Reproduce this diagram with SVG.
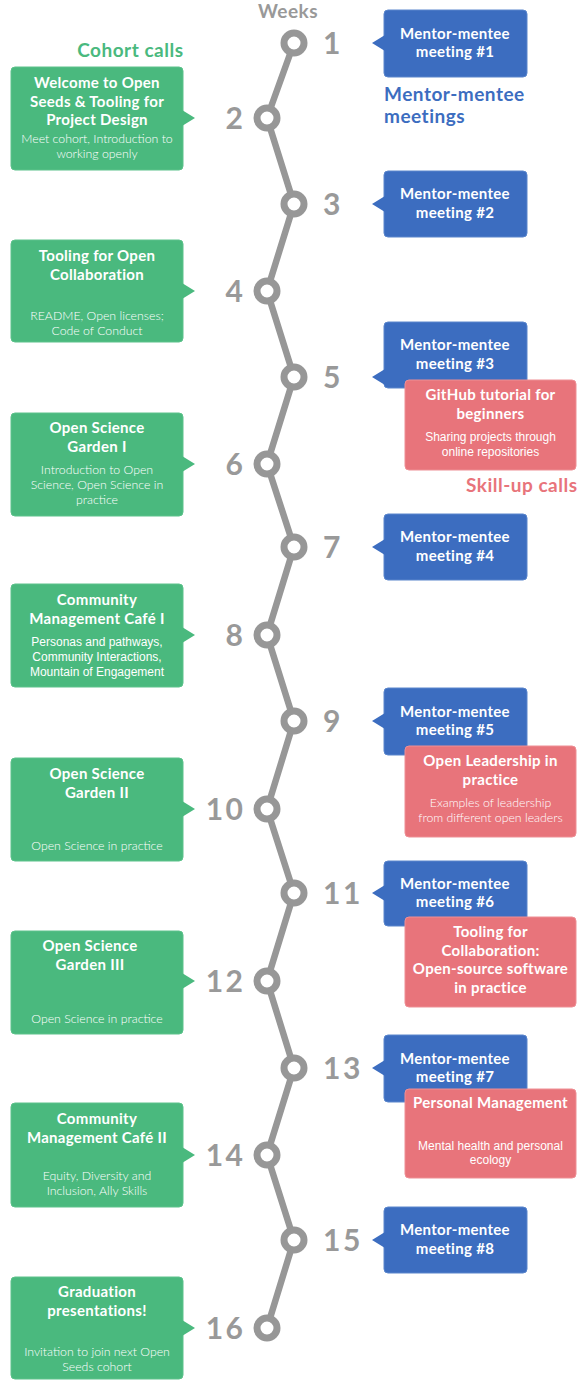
<svg xmlns="http://www.w3.org/2000/svg" width="577" height="1380" viewBox="0 0 577 1380">
<style>
.g{fill:#4ab97e;stroke:#5cc28b;stroke-width:1}
.b{fill:#3c6dc0;stroke:#5a86cc;stroke-width:1}
.r{fill:#e8747b;stroke:#ee8f95;stroke-width:1}
.ga{fill:#4ab97e}
.ba{fill:#3c6dc0}
.t{font-family:Lato,'Liberation Sans',sans-serif;font-weight:700;font-size:15px;letter-spacing:0.3px;fill:#fff;text-anchor:middle}
.s{font-family:Lato,'Liberation Sans',sans-serif;font-weight:300;font-size:12.3px;fill:#fff;text-anchor:middle}
.sa{font-family:'Liberation Sans',Arial,sans-serif;font-size:12px;fill:#fff;text-anchor:middle}
.wk{font-family:Lato,'Liberation Sans',sans-serif;font-weight:700;font-size:30px;letter-spacing:2.5px;fill:#999}
.wl{text-anchor:end}
.hd{font-family:Lato,'Liberation Sans',sans-serif;font-weight:700;font-size:19px;letter-spacing:0.5px}
.dot{fill:#fff;stroke:#979797;stroke-width:7}
</style>

<g id="headers">
<text class="hd" x="288" y="18" text-anchor="middle" fill="#999" font-size="18">Weeks</text>
<text class="hd" x="183.5" y="57" text-anchor="end" fill="#4ab97e">Cohort calls</text>
<text class="hd" x="384" y="101" fill="#3c6dc0">Mentor-mentee</text>
<text class="hd" x="384" y="123" fill="#3c6dc0">meetings</text>
<text class="hd" x="577.5" y="492" text-anchor="end" fill="#e8747b">Skill-up calls</text>
</g>

<g id="connectors">
<polyline points="294,43 267,118 294,204 267,291 294,377 267,464 294,547 267,635 294,721 267,809 294,893 267,981 294,1068 267,1155 294,1240 267,1328" fill="none" stroke="#979797" stroke-width="6.5" stroke-linejoin="round"/>
</g>

<g id="timeline">
<g id="w1"><circle class="dot" cx="294" cy="43" r="10"/><text class="wk" x="323" y="54">1</text></g>
<g id="w2"><circle class="dot" cx="267" cy="118" r="10"/><text class="wk wl" x="245.5" y="129">2</text></g>
<g id="w3"><circle class="dot" cx="294" cy="204" r="10"/><text class="wk" x="323" y="215">3</text></g>
<g id="w4"><circle class="dot" cx="267" cy="291" r="10"/><text class="wk wl" x="245.5" y="302">4</text></g>
<g id="w5"><circle class="dot" cx="294" cy="377" r="10"/><text class="wk" x="323" y="388">5</text></g>
<g id="w6"><circle class="dot" cx="267" cy="464" r="10"/><text class="wk wl" x="245.5" y="475">6</text></g>
<g id="w7"><circle class="dot" cx="294" cy="547" r="10"/><text class="wk" x="323" y="558">7</text></g>
<g id="w8"><circle class="dot" cx="267" cy="635" r="10"/><text class="wk wl" x="245.5" y="646">8</text></g>
<g id="w9"><circle class="dot" cx="294" cy="721" r="10"/><text class="wk" x="323" y="732">9</text></g>
<g id="w10"><circle class="dot" cx="267" cy="809" r="10"/><text class="wk wl" x="245.5" y="820">10</text></g>
<g id="w11"><circle class="dot" cx="294" cy="893" r="10"/><text class="wk" x="323" y="904">11</text></g>
<g id="w12"><circle class="dot" cx="267" cy="981" r="10"/><text class="wk wl" x="245.5" y="992">12</text></g>
<g id="w13"><circle class="dot" cx="294" cy="1068" r="10"/><text class="wk" x="323" y="1079">13</text></g>
<g id="w14"><circle class="dot" cx="267" cy="1155" r="10"/><text class="wk wl" x="245.5" y="1166">14</text></g>
<g id="w15"><circle class="dot" cx="294" cy="1240" r="10"/><text class="wk" x="323" y="1251">15</text></g>
<g id="w16"><circle class="dot" cx="267" cy="1328" r="10"/><text class="wk wl" x="245.5" y="1339">16</text></g>
</g>

<g id="cohort">
<g id="c1"><rect class="g" x="11" y="67" width="172" height="103" rx="4"/><polygon class="ga" points="182,110 195,118 182,126"/>
<text class="t" x="97" y="88">Welcome to Open</text><text class="t" x="97" y="106.5">Seeds &amp; Tooling for</text><text class="t" x="97" y="125">Project Design</text>
<text class="s" x="97" y="143">Meet cohort, Introduction to</text><text class="s" x="97" y="158">working openly</text></g>

<g id="c2"><rect class="g" x="11" y="240" width="172" height="102" rx="4"/><polygon class="ga" points="182,283 195,291 182,299"/>
<text class="t" x="97" y="261">Tooling for Open</text><text class="t" x="97" y="279.5">Collaboration</text>
<text class="s" x="97" y="320">README, Open licenses;</text><text class="s" x="97" y="335">Code of Conduct</text></g>

<g id="c3"><rect class="g" x="11" y="413" width="172" height="103" rx="4"/><polygon class="ga" points="182,456 195,464 182,472"/>
<text class="t" x="97" y="433">Open Science</text><text class="t" x="97" y="451.5">Garden I</text>
<text class="s" x="97" y="474">Introduction to Open</text><text class="s" x="97" y="489">Science, Open Science in</text><text class="s" x="97" y="504">practice</text></g>

<g id="c4"><rect class="g" x="11" y="584" width="172" height="103" rx="4"/><polygon class="ga" points="182,627 195,635 182,643"/>
<text class="t" x="97" y="605">Community</text><text class="t" x="97" y="623.5">Management Café I</text>
<text class="sa" x="97" y="646">Personas and pathways,</text><text class="sa" x="97" y="661">Community Interactions,</text><text class="sa" x="97" y="676">Mountain of Engagement</text></g>

<g id="c5"><rect class="g" x="11" y="758" width="172" height="103" rx="4"/><polygon class="ga" points="182,801 195,809 182,817"/>
<text class="t" x="97" y="779">Open Science</text><text class="t" x="97" y="797.5">Garden II</text>
<text class="s" x="97" y="850">Open Science in practice</text></g>

<g id="c6"><rect class="g" x="11" y="931" width="172" height="103" rx="4"/><polygon class="ga" points="182,973 195,981 182,989"/>
<text class="t" x="90" y="951">Open Science</text><text class="t" x="90" y="969.5">Garden III</text>
<text class="s" x="97" y="1023">Open Science in practice</text></g>

<g id="c7"><rect class="g" x="11" y="1103" width="172" height="104" rx="4"/><polygon class="ga" points="182,1147 195,1155 182,1163"/>
<text class="t" x="97" y="1124">Community</text><text class="t" x="97" y="1142.5">Management Café II</text>
<text class="s" x="97" y="1180">Equity, Diversity and</text><text class="s" x="97" y="1195">Inclusion, Ally Skills</text></g>

<g id="c8"><rect class="g" x="11" y="1277" width="172" height="102" rx="4"/><polygon class="ga" points="182,1320 195,1328 182,1336"/>
<text class="t" x="97" y="1297">Graduation</text><text class="t" x="97" y="1315.5">presentations!</text>
<text class="s" x="97" y="1356">Invitation to join next Open</text><text class="s" x="97" y="1371">Seeds cohort</text></g>
</g>

<g id="mentor">
<g id="m1"><rect class="b" x="384" y="10" width="143" height="67" rx="4"/><polygon class="ba" points="385,35 372,43 385,51"/>
<text class="t" x="455" y="38.5">Mentor-mentee</text><text class="t" x="455" y="57">meeting #1</text></g>
<g id="m2"><rect class="b" x="384" y="171" width="143" height="66" rx="4"/><polygon class="ba" points="385,196 372,204 385,212"/>
<text class="t" x="455" y="199">Mentor-mentee</text><text class="t" x="455" y="217.5">meeting #2</text></g>
<g id="m3"><rect class="b" x="384" y="322" width="143" height="66" rx="4"/><polygon class="ba" points="385,369 372,377 385,385"/>
<text class="t" x="455" y="350">Mentor-mentee</text><text class="t" x="455" y="368.5">meeting #3</text></g>
<g id="m4"><rect class="b" x="384" y="514" width="143" height="66" rx="4"/><polygon class="ba" points="385,539 372,547 385,555"/>
<text class="t" x="455" y="542">Mentor-mentee</text><text class="t" x="455" y="560.5">meeting #4</text></g>
<g id="m5"><rect class="b" x="384" y="688" width="143" height="67" rx="4"/><polygon class="ba" points="385,713 372,721 385,729"/>
<text class="t" x="455" y="716.5">Mentor-mentee</text><text class="t" x="455" y="735">meeting #5</text></g>
<g id="m6"><rect class="b" x="384" y="861" width="143" height="65" rx="4"/><polygon class="ba" points="385,885 372,893 385,901"/>
<text class="t" x="455" y="888.5">Mentor-mentee</text><text class="t" x="455" y="907">meeting #6</text></g>
<g id="m7"><rect class="b" x="384" y="1035" width="143" height="67" rx="4"/><polygon class="ba" points="385,1060 372,1068 385,1076"/>
<text class="t" x="455" y="1063.5">Mentor-mentee</text><text class="t" x="455" y="1082">meeting #7</text></g>
<g id="m8"><rect class="b" x="384" y="1207" width="143" height="66" rx="4"/><polygon class="ba" points="385,1232 372,1240 385,1248"/>
<text class="t" x="455" y="1235">Mentor-mentee</text><text class="t" x="455" y="1253.5">meeting #8</text></g>
</g>

<g id="skillup">
<g id="s1"><rect class="r" x="405" y="380" width="171" height="90" rx="4"/>
<text class="t" x="490.5" y="400">GitHub tutorial for</text><text class="t" x="490.5" y="418.5">beginners</text>
<text class="sa" x="490.5" y="441">Sharing projects through</text><text class="sa" x="490.5" y="456">online repositories</text></g>
<g id="s2"><rect class="r" x="405" y="746" width="171" height="91" rx="4"/>
<text class="t" x="490.5" y="766">Open Leadership in</text><text class="t" x="490.5" y="784.5">practice</text>
<text class="s" x="490.5" y="807">Examples of leadership</text><text class="s" x="490.5" y="822">from different open leaders</text></g>
<g id="s3"><rect class="r" x="405" y="917" width="171" height="90" rx="4"/>
<text class="t" x="490.5" y="937">Tooling for</text><text class="t" x="490.5" y="955.5">Collaboration:</text><text class="t" x="490.5" y="974">Open-source software</text><text class="t" x="490.5" y="992.5">in practice</text></g>
<g id="s4"><rect class="r" x="405" y="1089" width="171" height="89" rx="4"/>
<text class="t" x="490.5" y="1108">Personal Management</text>
<text class="sa" x="490.5" y="1150">Mental health and personal</text><text class="sa" x="490.5" y="1164">ecology</text></g>
</g>
</svg>
